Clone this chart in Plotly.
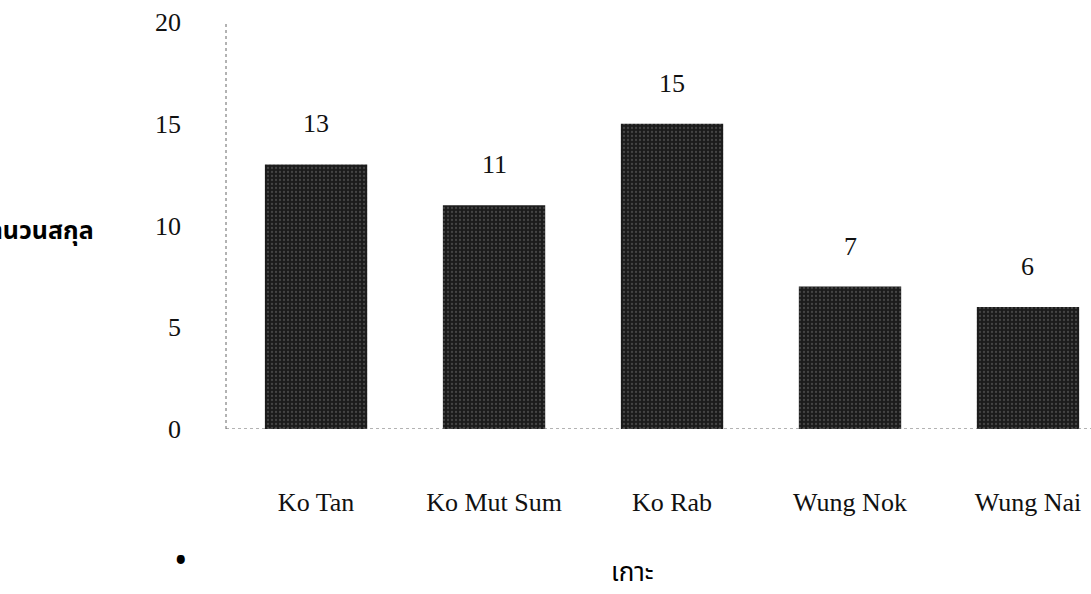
import plotly.graph_objects as go

# Number of genera recorded at each island
islands = ["Ko Tan", "Ko Mut Sum", "Ko Rab", "Wung Nok", "Wung Nai"]
genera = [13, 11, 15, 7, 6]
y_ticks = [0, 5, 10, 15, 20]

serif = "Liberation Serif, Times New Roman, serif"
thai = "Tahoma, Noto Sans Thai, Noto Sans, DejaVu Sans, sans-serif"

fig = go.Figure()
fig.add_trace(go.Bar(
    x=islands,
    y=genera,
    width=0.575,
    marker=dict(
        color="#1b1b1b",
        line=dict(width=0),
        pattern=dict(shape=".", fgcolor="#6e6e6e", bgcolor="#1b1b1b",
                     size=4, solidity=0.25),
    ),
    hoverinfo="x+y",
))

# value labels above each bar
for name, v in zip(islands, genera):
    fig.add_annotation(x=name, y=v, text=str(v), showarrow=False,
                       yanchor="bottom", yshift=24,
                       font=dict(family=serif, size=26, color="#111"))

# dotted axis lines
fig.add_shape(type="line", xref="paper", yref="y", x0=0, x1=0, y0=0, y1=20,
              line=dict(color="#666", width=1, dash="dot"))
fig.add_shape(type="line", xref="paper", yref="y", x0=0, x1=1, y0=0, y1=0,
              line=dict(color="#666", width=1, dash="dot"))

# axis titles
fig.add_annotation(xref="paper", yref="paper", x=-0.150, y=0.487,
                   xanchor="right", yanchor="middle", showarrow=False,
                   text="<b>จำนวนสกุล</b>",
                   font=dict(family=thai, size=25, color="#000"))
fig.add_annotation(xref="paper", yref="paper", x=0.4695, y=-0.355,
                   xanchor="center", yanchor="middle", showarrow=False,
                   text="เกาะ", font=dict(family=thai, size=26, color="#000"))
fig.add_annotation(xref="paper", yref="paper", x=-0.0520, y=-0.328,
                   xanchor="center", yanchor="middle", showarrow=False,
                   text="•", font=dict(family=thai, size=36, color="#000"))

fig.update_layout(
    width=1091, height=594,
    margin=dict(l=226, r=0, t=22, b=165),
    paper_bgcolor="white", plot_bgcolor="white",
    showlegend=False,
    font=dict(family=serif, size=26, color="#111"),
    xaxis=dict(range=[-0.506, 4.354], showgrid=False, showline=False,
               zeroline=False, ticks="", ticklabelstandoff=55,
               tickfont=dict(family=serif, size=26, color="#111"),
               fixedrange=True),
    yaxis=dict(range=[0, 20], tickvals=y_ticks, showgrid=False,
               showline=False, zeroline=False, ticks="",
               ticklabelstandoff=44,
               tickfont=dict(family=serif, size=26, color="#111"),
               fixedrange=True),
)

fig.write_html("out.html")
